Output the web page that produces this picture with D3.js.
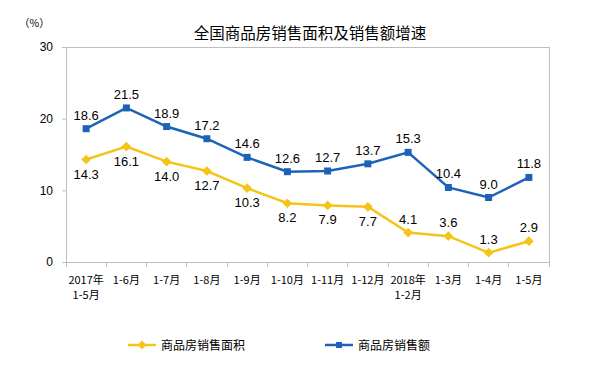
<!DOCTYPE html>
<html><head><meta charset="utf-8">
<script src="https://cdn.jsdelivr.net/npm/d3@7"></script>
<style>
html,body{margin:0;padding:0;background:#fff;}
svg{display:block;}
text{font-family:"Liberation Sans",Arial,"Noto Sans CJK SC",sans-serif;fill:#000;}
.cjk{font-family:"Noto Sans CJK SC","Liberation Sans",sans-serif;}
</style></head><body>
<svg id="c" width="602" height="365"></svg>
<script>
const categories = ["2017年\n1-5月","1-6月","1-7月","1-8月","1-9月","1-10月","1-11月","1-12月","2018年\n1-2月","1-3月","1-4月","1-5月"];
const areaGrowth = [14.3,16.1,14.0,12.7,10.3,8.2,7.9,7.7,4.1,3.6,1.3,2.9];
const salesGrowth = [18.6,21.5,18.9,17.2,14.6,12.6,12.7,13.7,15.3,10.4,9.0,11.8];
const yTicks = [0,10,20,30];
const areaLabelAbove = [false,false,false,false,false,false,false,false,true,true,true,true];
const seriesNames = ["商品房销售面积","商品房销售额"];
const title = "全国商品房销售面积及销售额增速";

const svg = d3.select("#c");
const L=66,R=549,T=47,B=262;
const x = d3.scaleBand().domain(categories).range([L,R]);
const y = d3.scaleLinear().domain([0,30]).range([B,T]);
const blue="#1c63b7", yellow="#f4c418", axisC="#bfbfbf";

svg.append("text").attr("class","cjk").attr("x",310).attr("y",39).attr("text-anchor","middle")
  .style("font-size","15.5px").text(title);
svg.append("text").attr("class","cjk").attr("x",19).attr("y",27).style("font-size","10.5px").attr("fill","#333").text("（%）");

// frame
svg.append("rect").attr("x",L).attr("y",T).attr("width",R-L).attr("height",B-T)
  .attr("fill","none").attr("stroke",axisC).attr("stroke-width",1).attr("shape-rendering","crispEdges");

// y axis
const ya = svg.append("g").attr("transform",`translate(${L},0)`)
  .call(d3.axisLeft(y).tickValues(yTicks).tickSize(4).tickPadding(9).tickFormat(d3.format("d")));
ya.select(".domain").attr("stroke",axisC);
ya.selectAll(".tick line").attr("stroke",axisC);
ya.selectAll(".tick text").style("font-size","12px").attr("fill","#000");

// x axis
const xa = svg.append("g").attr("transform",`translate(0,${B})`)
  .call(d3.axisBottom(x).tickSize(0).tickFormat(""));
xa.select(".domain").attr("stroke",axisC);
xa.selectAll(".tick").remove();
const bounds = d3.range(categories.length+1).map(i=>L+i*x.step());
xa.selectAll("line.b").data(bounds).enter().append("line").attr("class","b")
  .attr("x1",d=>d).attr("x2",d=>d).attr("y1",0).attr("y2",5)
  .attr("stroke",axisC).attr("shape-rendering","crispEdges");
const xl = svg.append("g");
categories.forEach(c=>{
  const lines=c.split("\n");
  const t=xl.append("text").attr("class","cjk").attr("text-anchor","middle")
    .attr("x",x(c)+x.bandwidth()/2).attr("y",284).style("font-size","11px");
  lines.forEach((ln,i)=>t.append("tspan").attr("x",x(c)+x.bandwidth()/2).attr("dy",i?15:0).text(ln));
});

const cx = (d,i)=>x(categories[i])+x.bandwidth()/2;
const line = d3.line().x((d,i)=>cx(d,i)).y(d=>y(d));

// yellow series
svg.append("path").datum(areaGrowth).attr("d",line).attr("fill","none").attr("stroke",yellow).attr("stroke-width",2.5);
svg.selectAll("path.dm").data(areaGrowth).enter().append("path").attr("class","dm")
  .attr("d",d3.symbol(d3.symbolDiamond2,60)())
  .attr("transform",(d,i)=>`translate(${cx(d,i)},${y(d)})`).attr("fill",yellow);
// blue series
svg.append("path").datum(salesGrowth).attr("d",line).attr("fill","none").attr("stroke",blue).attr("stroke-width",2.5);
svg.selectAll("rect.sq").data(salesGrowth).enter().append("rect").attr("class","sq")
  .attr("x",(d,i)=>cx(d,i)-3.5).attr("y",d=>y(d)-3.5).attr("width",7).attr("height",7).attr("fill",blue);

// labels
svg.selectAll("text.lb").data(salesGrowth).enter().append("text").attr("class","lb")
  .attr("x",(d,i)=>cx(d,i)).attr("y",d=>y(d)-9).attr("text-anchor","middle").style("font-size","13px")
  .text(d=>d.toFixed(1));
svg.selectAll("text.la").data(areaGrowth).enter().append("text").attr("class","la")
  .attr("x",(d,i)=>cx(d,i)).attr("y",(d,i)=>areaLabelAbove[i]?y(d)-9:y(d)+19).attr("text-anchor","middle").style("font-size","13px")
  .text(d=>d.toFixed(1));

// legend
const lg=[{x:128,c:yellow,n:seriesNames[0],m:"d"},{x:325,c:blue,n:seriesNames[1],m:"s"}];
lg.forEach(o=>{
  const g=svg.append("g");
  g.append("line").attr("x1",o.x).attr("x2",o.x+28).attr("y1",345).attr("y2",345).attr("stroke",o.c).attr("stroke-width",2.5);
  if(o.m==="d") g.append("path").attr("d",d3.symbol(d3.symbolDiamond2,50)()).attr("transform",`translate(${o.x+14},345)`).attr("fill",o.c);
  else g.append("rect").attr("x",o.x+11).attr("y",342).attr("width",6).attr("height",6).attr("fill",o.c);
  g.append("text").attr("class","cjk").attr("x",o.x+33).attr("y",349.5).style("font-size","12px").text(o.n);
});
</script></body></html>
